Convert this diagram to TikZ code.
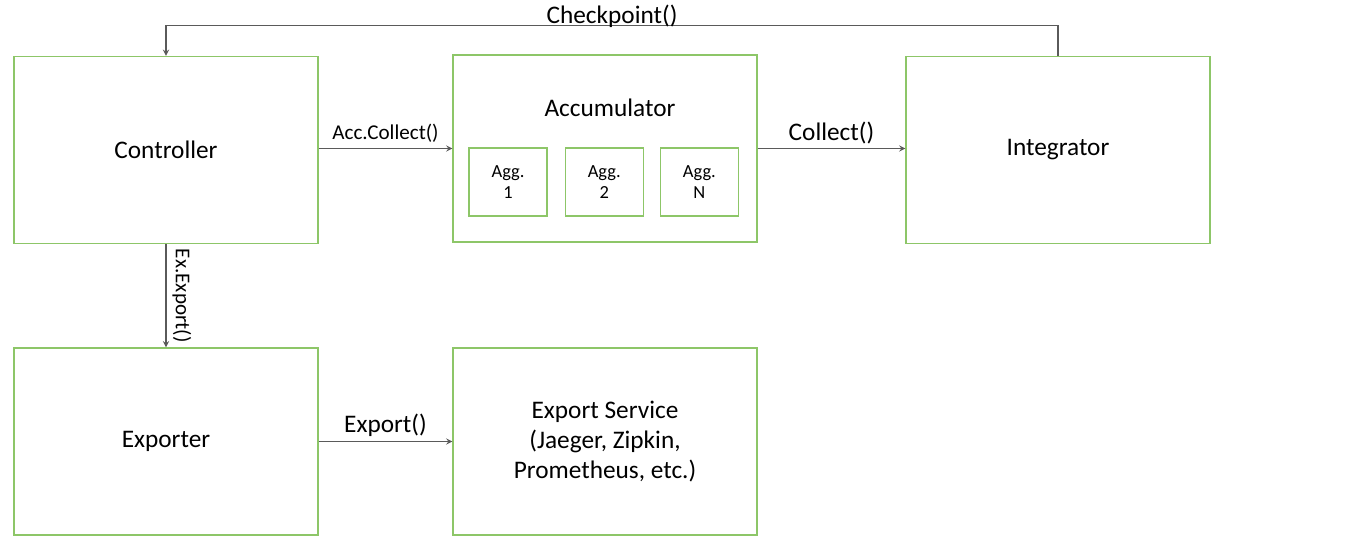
\documentclass[tikz,border=0pt]{standalone}
\usepackage{fontspec}
\setmainfont{Carlito}
\usetikzlibrary{positioning}
\usepackage{xcolor}
\definecolor{boxgreen}{RGB}{141,198,104}
\definecolor{linegray}{RGB}{90,90,90}

\begin{document}
\begin{tikzpicture}[
        x = 0.02cm, y = -0.02cm, % pixel grid
        > = stealth, % arrow head style
        semithick
      ]

      \tikzset{
        block/.style = {draw = boxgreen, line width = 0.7pt, fill = white,
          minimum width = 6.08cm, minimum height = 3.74cm, align = center,
          font = \fontsize{14.4}{17.3}\selectfont},
        agg/.style = {draw = boxgreen, line width = 0.7pt,
          minimum width = 1.56cm, minimum height = 1.36cm, align = center,
          font = \fontsize{10.5}{12}\selectfont},
        link/.style = {->, draw = linegray, line width = 0.6pt},
        biglabel/.style = {font = \fontsize{14.4}{17.3}\selectfont},
        smalllabel/.style = {font = \fontsize{12}{14}\selectfont}
      }

      \useasboundingbox (0,0) rectangle (1368,540);

      \node[block] (ctrl) at (166,150) {Controller};
      \node[block] (acc) at (605,148.5) {};
      \node[biglabel] (acclabel) at (610,108) {Accumulator};
      \node[agg] (agg1) at (508,182) {Agg.\\1};
      \node[agg] (agg2) [right=0.34cm of agg1] {Agg.\\2};
      \node[agg] (aggn) [right=0.32cm of agg2] {Agg.\\N};
      \node[block] (integ) at (1058,150) {Integrator};
      \node[block] (exp) at (166,441.5) {Exporter};
      \node[block] (svc) at (605,441.5) {Export Service\\(Jaeger, Zipkin,\\Prometheus, etc.)};

      \draw[link] (integ.north) -- ++(0,-30) -| (ctrl.north)
        node[pos=0.25, above=-4.5pt, biglabel] {Checkpoint()};
      \draw[link] (ctrl.east |- acc) -- node[above, smalllabel] {Acc.Collect()} (acc);
      \draw[link] (acc) -- node[above=-1pt, biglabel] {Collect()} (integ.west |- acc);
      \draw[link] (ctrl) -- node[right, smalllabel, rotate=-90, anchor=south] {Ex.Export()} (exp);
      \draw[link] (exp) -- node[above=-1pt, biglabel] {Export()} (svc);
  \end{tikzpicture}
\end{document}
